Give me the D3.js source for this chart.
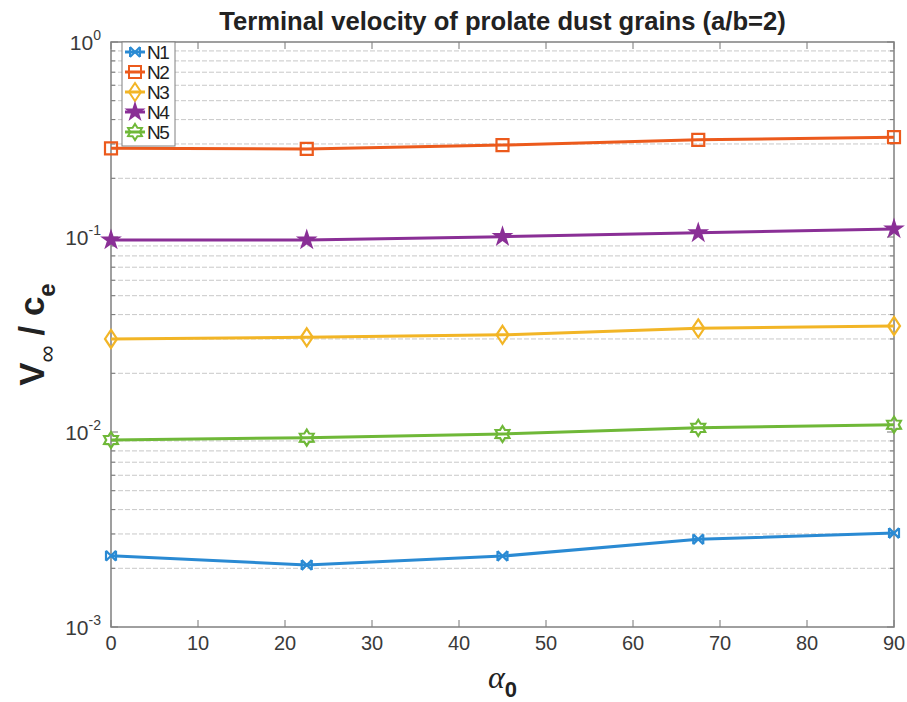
<!DOCTYPE html>
<html>
<head>
<meta charset="utf-8">
<script src="https://cdn.jsdelivr.net/npm/d3@7"></script>
<style>
  html, body { margin: 0; padding: 0; background: #fff; }
  svg { display: block; font-family: "Liberation Sans", Arial, sans-serif; }
</style>
</head>
<body>
<div id="chart"></div>
<script>
const W = 907, H = 702;
const MARGIN = { top: 42, right: 13, bottom: 75, left: 111 };
const TITLE_WIDTH = 567;

// data
const alpha = [0, 22.5, 45, 67.5, 90];
const seriesNames = ["N1", "N2", "N3", "N4", "N5"];
const N1 = [0.00232, 0.00208, 0.00231, 0.00282, 0.00303];
const N2 = [0.285, 0.283, 0.296, 0.315, 0.325];
const N3 = [0.0300, 0.0306, 0.0315, 0.0340, 0.0350];
const N4 = [0.0965, 0.0965, 0.1004, 0.105, 0.110];
const N5 = [0.0091, 0.00935, 0.00977, 0.0105, 0.0109];
const colors = ["#2a8ad3", "#ec5a1c", "#f2b526", "#8a2f96", "#6fb838"];
const xTicks = [0, 10, 20, 30, 40, 50, 60, 70, 80, 90];
const yMajor = [1e-3, 1e-2, 1e-1, 1];

const series = [N1, N2, N3, N4, N5];

const svg = d3.select("#chart").append("svg")
  .attr("width", W).attr("height", H)
  .attr("viewBox", `0 0 ${W} ${H}`);

const x = d3.scaleLinear().domain([0, 90]).range([MARGIN.left, W - MARGIN.right]);
const y = d3.scaleLog().domain([1e-3, 1]).range([H - MARGIN.bottom, MARGIN.top]);
const [x0, x1] = x.range();
const [y0, y1] = y.range();

// minor grid lines (dashed) at 2..9 of each decade
const minor = [];
for (let e = -3; e < 0; e++) for (let m = 2; m <= 9; m++) minor.push(m * Math.pow(10, e));

svg.append("g").selectAll("line")
  .data(minor)
  .join("line")
  .attr("x1", x0).attr("x2", x1)
  .attr("y1", d => y(d)).attr("y2", d => y(d))
  .attr("stroke", "#c8c8c8")
  .attr("stroke-width", 1)
  .attr("stroke-dasharray", "5,2");

// ticks (inside, both sides)
const tickG = svg.append("g").attr("stroke", "#777").attr("stroke-width", 1);
xTicks.forEach(t => {
  tickG.append("line").attr("x1", x(t)).attr("x2", x(t)).attr("y1", y0).attr("y2", y0 - 7);
  tickG.append("line").attr("x1", x(t)).attr("x2", x(t)).attr("y1", y1).attr("y2", y1 + 7);
});
yMajor.forEach(t => {
  tickG.append("line").attr("x1", x0).attr("x2", x0 + 7).attr("y1", y(t)).attr("y2", y(t));
  tickG.append("line").attr("x1", x1).attr("x2", x1 - 7).attr("y1", y(t)).attr("y2", y(t));
});
minor.forEach(t => {
  tickG.append("line").attr("x1", x0).attr("x2", x0 + 4).attr("y1", y(t)).attr("y2", y(t));
  tickG.append("line").attr("x1", x1).attr("x2", x1 - 4).attr("y1", y(t)).attr("y2", y(t));
});

// axes box
svg.append("rect")
  .attr("x", x0).attr("y", y1)
  .attr("width", x1 - x0).attr("height", y0 - y1)
  .attr("fill", "none")
  .attr("stroke", "#808080")
  .attr("stroke-width", 1.5);

// x tick labels
svg.append("g").selectAll("text")
  .data(xTicks)
  .join("text")
  .attr("x", d => x(d))
  .attr("y", y0 + 23)
  .attr("text-anchor", "middle")
  .attr("font-size", 20)
  .attr("fill", "#3a3a3a")
  .text(d => d);

// y tick labels 10^k
const yLab = svg.append("g").attr("fill", "#3a3a3a");
yMajor.forEach(t => {
  const e = Math.round(Math.log10(t));
  const txt = yLab.append("text")
    .attr("x", x0 - 10)
    .attr("y", y(t) + 8)
    .attr("text-anchor", "end")
    .attr("font-size", 21);
  txt.append("tspan").text("10");
  txt.append("tspan").attr("dy", -10).attr("font-size", 14).text(e);
});

// markers
const markerPath = [
  "M-5,-5L5,5M-5,5L5,-5M-5,-5L-5,5M5,-5L5,5",
  "M-6,-6H6V6H-6Z",
  "M0,-9L6,0L0,9L-6,0Z",
  d3.symbol(d3.symbolStar, 70)(),
  (() => {
    const pts = [];
    for (let i = 0; i < 12; i++) {
      const r = i % 2 === 0 ? 8 : 4.8;
      const a = -Math.PI / 2 + i * Math.PI / 6;
      pts.push([r * Math.cos(a), r * Math.sin(a)]);
    }
    return "M" + pts.map(p => p.join(",")).join("L") + "Z";
  })()
];

const line = d3.line().x((d, i) => x(alpha[i])).y(d => y(d));

series.forEach((vals, k) => {
  const g = svg.append("g");
  g.append("path")
    .attr("d", line(vals))
    .attr("fill", "none")
    .attr("stroke", colors[k])
    .attr("stroke-width", 3);
  g.selectAll("path.m")
    .data(vals)
    .join("path")
    .attr("class", "m")
    .attr("transform", (d, i) => `translate(${x(alpha[i])},${y(d)})`)
    .attr("d", markerPath[k])
    .attr("fill", k === 3 ? colors[k] : "none")
    .attr("stroke", colors[k])
    .attr("stroke-width", 2.2);
});

// legend
const legend = svg.append("g");
legend.append("rect")
  .attr("x", 122).attr("y", y1)
  .attr("width", 53).attr("height", 104)
  .attr("fill", "#fff")
  .attr("stroke", "#808080")
  .attr("stroke-width", 1);
seriesNames.forEach((name, k) => {
  const ly = 52 + k * 20;
  legend.append("line")
    .attr("x1", 125).attr("x2", 145).attr("y1", ly).attr("y2", ly)
    .attr("stroke", colors[k]).attr("stroke-width", 3);
  legend.append("path")
    .attr("transform", `translate(135,${ly})`)
    .attr("d", markerPath[k])
    .attr("fill", k === 3 ? colors[k] : "none")
    .attr("stroke", colors[k])
    .attr("stroke-width", 2);
  legend.append("text")
    .attr("x", 147).attr("y", ly + 7)
    .attr("font-size", 19)
    .attr("letter-spacing", -1.5)
    .attr("fill", "#222")
    .text(name);
});

// title, sized to the reference's width
const title = svg.append("text")
  .attr("x", (x0 + x1) / 2)
  .attr("y", 30)
  .attr("text-anchor", "middle")
  .attr("font-weight", "bold")
  .attr("font-size", 20)
  .attr("fill", "#222")
  .text("Terminal velocity of prolate dust grains (a/b=2)");
const tw = title.node().getComputedTextLength();
if (tw > 0) title.attr("font-size", 20 * TITLE_WIDTH / tw);

// x label: alpha_0
const xl = svg.append("text")
  .attr("x", (x0 + x1) / 2)
  .attr("y", 688)
  .attr("text-anchor", "middle")
  .attr("fill", "#222");
xl.append("tspan").attr("font-family", "'Liberation Serif', serif").attr("font-style", "italic").attr("font-size", 32).text("α");
xl.append("tspan").attr("dy", 9).attr("font-weight", "bold").attr("font-size", 22).text("0");

// y label: V_inf / c_e
const ylab = svg.append("text")
  .attr("transform", `translate(44,${(y0 + y1) / 2}) rotate(-90)`)
  .attr("text-anchor", "middle")
  .attr("font-weight", "bold")
  .attr("font-size", 35)
  .attr("fill", "#222");
ylab.append("tspan").text("V");
ylab.append("tspan").attr("dy", 11).attr("font-size", 24).attr("font-weight", "normal").text("∞");
ylab.append("tspan").attr("dy", -11).text(" / c");
ylab.append("tspan").attr("dy", 11).attr("font-size", 24).text("e");
</script>
</body>
</html>
